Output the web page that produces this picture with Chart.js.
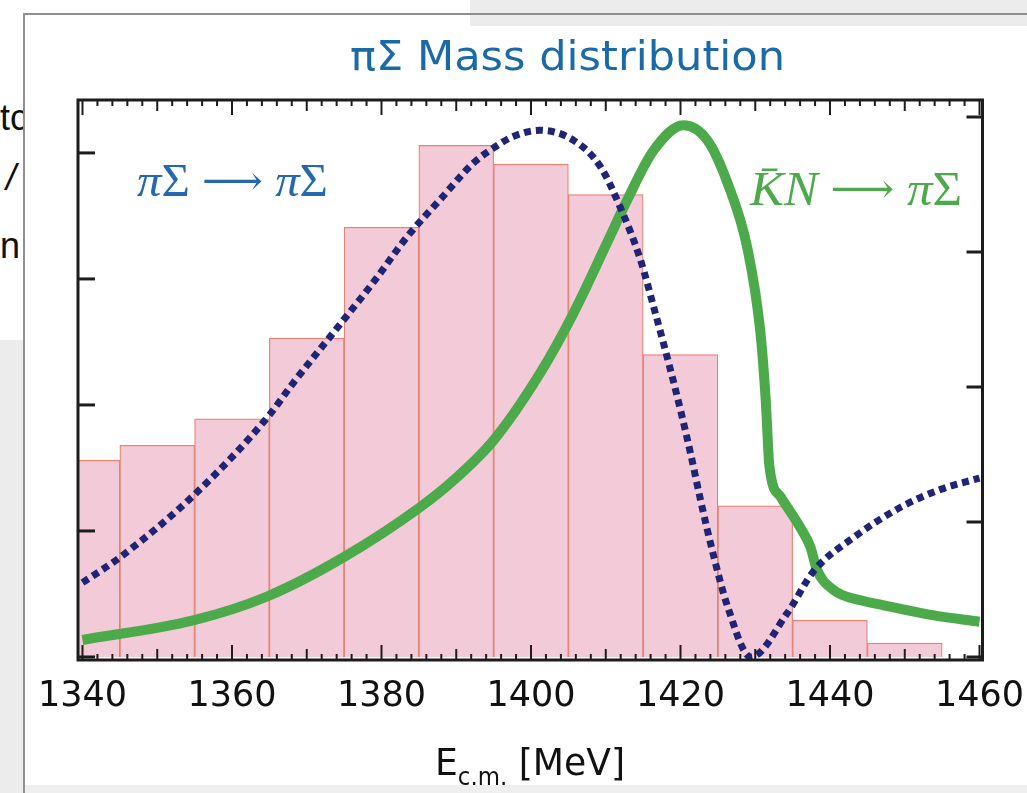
<!DOCTYPE html>
<html>
<head>
<meta charset="utf-8">
<script src="https://cdn.jsdelivr.net/npm/chart.js@4.4.0/dist/chart.umd.min.js"></script>
<style>
  html, body { margin: 0; padding: 0; background: #fff; }
  #wrap { position: relative; width: 1027px; height: 793px; overflow: hidden; background: #fff; }
  .bg { position: absolute; }
  .frag { position: absolute; font: 36px 'Liberation Sans', Arial, sans-serif; color: #111; line-height: 1; white-space: nowrap; }
  #massChart { position: absolute; left: 0; top: 0; }
</style>
</head>
<body>
<div id="wrap">
  <!-- slide background bits around the figure -->
  <div class="bg" style="left:470px;top:0;width:557px;height:26px;background:#ececec"></div>
  <div class="bg" style="left:23px;top:13px;width:1004px;height:2px;background:#8f8f8f"></div>
  <div class="bg" style="left:0;top:340px;width:23px;height:453px;background:#ececec"></div>
  <div class="bg" style="left:23px;top:13px;width:2px;height:780px;background:#8f8f8f"></div>
  <div class="bg" style="left:25px;top:785px;width:1002px;height:8px;background:#efefef"></div>
  <div class="bg" style="left:0;top:90px;width:23px;height:190px;overflow:hidden">
    <div class="frag" style="left:0;top:10px">tc</div>
    <div class="frag" style="left:6px;top:70px;font-style:italic">/</div>
    <div class="frag" style="left:0;top:138px">n</div>
  </div>
  <canvas id="massChart" width="1027" height="793"></canvas>
</div>
<script>
// histogram bins (10 MeV wide, centres), arbitrary units
const binCenters = [1340, 1350, 1360, 1370, 1380, 1390, 1400, 1410, 1420, 1430, 1440, 1450];
const binCounts = [1.56, 1.68, 1.89, 2.53, 3.41, 4.06, 3.91, 3.67, 2.40, 1.20, 0.29, 0.11];

// pi Sigma -> pi Sigma (dotted)
const pipiMass = [1340, 1345, 1355, 1365, 1368, 1375, 1379, 1383.5, 1388, 1392.3, 1395, 1397.6, 1401.2,
  1405.7, 1409.3, 1412, 1414.6, 1416.4, 1418.3, 1420, 1421.4, 1422.7, 1424.4, 1426.3, 1429.4,
  1434.3, 1437.8, 1443.2, 1449.5, 1454.8, 1460];
const pipiVal = [0.59, 0.79, 1.29, 1.92, 2.16, 2.68, 2.98, 3.34, 3.64, 3.92, 4.04, 4.13, 4.18,
  4.10, 3.89, 3.56, 3.16, 2.78, 2.36, 1.96, 1.60, 1.24, 0.81, 0.40, 0.0,
  0.35, 0.68, 0.95, 1.19, 1.33, 1.42];

// Kbar N -> pi Sigma (solid)
const kbarMass = [1340, 1354.8, 1364.7, 1374.9, 1385.2, 1389.6, 1395, 1401.2, 1405.7, 1410.2, 1412.9,
  1416.4, 1420.4, 1423.6, 1426.3, 1429, 1430.7, 1431.4, 1431.9, 1433.4, 1436, 1437.4, 1438.2,
  1440.5, 1444.1, 1447.2, 1453.9, 1460];
const kbarVal = [0.135, 0.29, 0.48, 0.79, 1.19, 1.40, 1.72, 2.25, 2.73, 3.29, 3.63,
  4.02, 4.22, 4.10, 3.76, 3.23, 2.57, 2.04, 1.51, 1.27, 1.03, 0.87, 0.70,
  0.53, 0.45, 0.41, 0.33, 0.28];

const tickLabels = [1340, 1360, 1380, 1400, 1420, 1440, 1460];
const leftTicks = [0, 1, 2, 3, 4];
const rightTicks = [0, 1, 2, 3, 4];

function drawRuns(ctx, runs, x, baseline, width, align) {
  let total = 0;
  runs.forEach(r => { ctx.font = r.font; r.w = ctx.measureText(r.text).width; total += r.w; });
  ctx.save();
  ctx.translate(align === 'center' ? x - width / 2 : x, baseline);
  ctx.scale(width / total, 1);
  let cx = 0;
  runs.forEach(r => {
    ctx.font = r.font;
    ctx.fillStyle = r.color;
    ctx.fillText(r.text, cx, r.dy || 0);
    cx += r.w;
  });
  ctx.restore();
}

const frameAndText = {
  id: 'frameAndText',
  afterDraw(chart) {
    const {ctx, chartArea: a, scales} = chart;
    const x = scales.x, y = scales.y, y2 = scales.y2;
    ctx.save();
    ctx.strokeStyle = '#1c1c1c';
    ctx.lineCap = 'butt';
    const seg = (x1, y1, x2, y2_) => { ctx.beginPath(); ctx.moveTo(x1, y1); ctx.lineTo(x2, y2_); ctx.stroke(); };

    // top / bottom ticks: minor every 2, medium every 10, major every 20
    ctx.lineWidth = 2;
    for (let v = 1340; v <= 1460; v += 2) {
      const px = x.getPixelForValue(v);
      const len = v % 20 === 0 ? 15 : (v % 10 === 0 ? 11 : 6);
      seg(px, a.bottom, px, a.bottom - len);
      seg(px, a.top, px, a.top + len);
    }
    ctx.lineWidth = 3;
    leftTicks.forEach(v => { const py = y.getPixelForValue(v); seg(a.left, py, a.left + 17, py); });
    rightTicks.forEach(v => { const py = y2.getPixelForValue(v); seg(a.right, py, a.right - 16, py); });
    ctx.strokeRect(a.left, a.top, a.right - a.left, a.bottom - a.top);

    ctx.textBaseline = 'alphabetic';
    // title
    drawRuns(ctx, [{text: 'πΣ Mass distribution', font: '41px "DejaVu Sans"', color: '#1b6aa8'}],
      567.5, 70, 435, 'center');
    // curve labels
    const serif = '"Liberation Serif", "DejaVu Serif", serif';
    const arrow = '"DejaVu Serif", serif';
    drawRuns(ctx, [
      {text: 'π', font: 'italic 46px ' + serif, color: '#2468ad'},
      {text: 'Σ ', font: '46px ' + serif, color: '#2468ad'},
      {text: '⟶', font: '40px ' + arrow, color: '#2468ad', dy: -2},
      {text: ' π', font: 'italic 46px ' + serif, color: '#2468ad'},
      {text: 'Σ', font: '46px ' + serif, color: '#2468ad'}
    ], 137, 196, 191, 'left');
    drawRuns(ctx, [
      {text: 'K̄N ', font: 'italic 48px ' + serif, color: '#4caa4a'},
      {text: '⟶', font: '42px ' + arrow, color: '#4caa4a', dy: -2},
      {text: ' π', font: 'italic 48px ' + serif, color: '#4caa4a'},
      {text: 'Σ', font: '48px ' + serif, color: '#4caa4a'}
    ], 750, 205, 212, 'left');
    // axis title with subscript
    drawRuns(ctx, [
      {text: 'E', font: '38px "DejaVu Sans"', color: '#111'},
      {text: 'c.m.', font: '24px "DejaVu Sans"', color: '#111', dy: 10},
      {text: ' [MeV]', font: '38px "DejaVu Sans"', color: '#111'}
    ], 435, 775, 190, 'left');
    ctx.restore();
  }
};

const ctx = document.getElementById('massChart').getContext('2d');
const massChart = new Chart(ctx, {
  data: {
    datasets: [
      {
        type: 'bar',
        label: 'histogram',
        data: binCenters.map((m, i) => ({x: m, y: binCounts[i]})),
        backgroundColor: '#f3cad7',
        borderColor: '#e8806e',
        borderWidth: 1.2,
        barPercentage: 1,
        categoryPercentage: 1,
        clip: 0,
        order: 3
      },
      {
        type: 'line',
        label: 'KbarN -> piSigma',
        data: kbarMass.map((m, i) => ({x: m, y: kbarVal[i]})),
        borderColor: '#4caa4a',
        borderWidth: 10,
        pointRadius: 0,
        cubicInterpolationMode: 'monotone',
        fill: false,
        clip: 0,
        order: 2
      },
      {
        type: 'line',
        label: 'piSigma -> piSigma',
        data: pipiMass.map((m, i) => ({x: m, y: pipiVal[i]})),
        borderColor: '#1f2574',
        borderWidth: 7,
        borderDash: [7, 5],
        borderCapStyle: 'butt',
        pointRadius: 0,
        cubicInterpolationMode: 'monotone',
        fill: false,
        clip: 0,
        order: 1
      }
    ]
  },
  options: {
    responsive: false,
    animation: false,
    devicePixelRatio: 1,
    layout: {padding: {left: 78, right: 44.5, top: 100, bottom: 0}},
    plugins: {legend: {display: false}, tooltip: {enabled: false}},
    scales: {
      x: {
        type: 'linear',
        offset: false,
        min: 1339.4,
        max: 1460.4,
        afterBuildTicks: s => { s.ticks = tickLabels.map(v => ({value: v})); },
        afterFit: s => { s.height = 133; s.paddingLeft = 0; s.paddingRight = 0; },
        grid: {display: false, drawTicks: false, offset: false},
        border: {display: false},
        ticks: {
          font: {family: 'DejaVu Sans', size: 35},
          color: '#111',
          padding: 16,
          maxRotation: 0,
          autoSkip: false,
          callback: v => String(v)
        }
      },
      y: {display: false, min: -0.024, max: 4.42},
      y2: {display: false, position: 'right', min: -0.0222, max: 4.126}
    }
  },
  plugins: [frameAndText]
});
</script>
</body>
</html>
